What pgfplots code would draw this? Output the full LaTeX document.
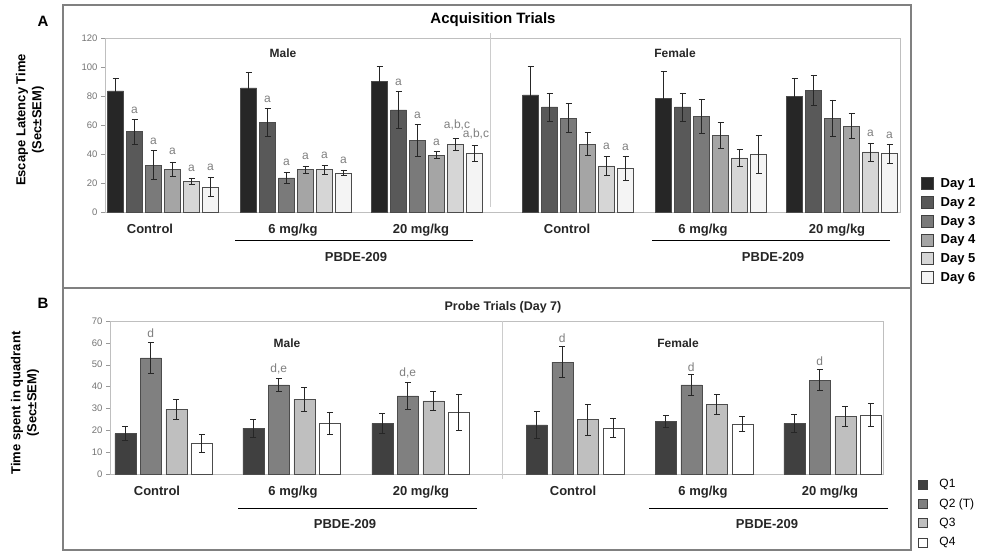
\documentclass[border=0pt]{standalone}
\usepackage{fontspec}
\setmainfont{Liberation Sans}
\usepackage{pgfplots}
\pgfplotsset{compat=1.18}
\definecolor{d1}{HTML}{262626}
\definecolor{d2}{HTML}{595959}
\definecolor{d3}{HTML}{7A7A7A}
\definecolor{d4}{HTML}{A5A5A5}
\definecolor{d5}{HTML}{D6D6D6}
\definecolor{d6}{HTML}{F4F4F4}
\definecolor{q1}{HTML}{404040}
\definecolor{q2}{HTML}{808080}
\definecolor{q3}{HTML}{BFBFBF}
\definecolor{q4}{HTML}{FFFFFF}
\definecolor{ann}{HTML}{7F7F7F}
\pgfplotsset{
  sqA/.style={legend image code/.code={\draw[##1,draw=black!75,line width=0.5pt] (0pt,-6pt) rectangle (12pt,6pt); \path (17pt,0pt);}},
  sqB/.style={legend image code/.code={\draw[##1,draw=black!75,line width=0.5pt] (0pt,-4.5pt) rectangle (9pt,4.5pt); \path (19pt,0pt);}},
  common/.style={
    scale only axis, clip=false, ybar,
    axis line style={black!25},
    ytick pos=left, tick align=outside, major tick length=4pt,
    ytick style={black!40},
    xtick style={draw=none},
    yticklabel style={font=\fontsize{9.5}{10}\selectfont, color=black!55},
    /pgf/number format/assume math mode=true,
    xticklabel style={font=\fontsize{13}{14}\selectfont\bfseries, color=black!85, yshift=-5pt},
    error bars/y dir=both, error bars/y explicit,
    error bars/error bar style={black!85, line width=0.6pt},
    error bars/error mark options={rotate=90, mark size=3pt, black!85, line width=0.6pt},
  },
  barA/.style={draw=black!70, line width=0.5pt, bar width=16, sqA},
  barB/.style={draw=black!70, line width=0.5pt, bar width=21, sqB},
}
\begin{document}
\begin{tikzpicture}
\useasboundingbox (0pt,0pt) rectangle (981pt,551pt);
\draw[black!50, line width=1.5pt] (63pt,1pt) rectangle (911pt,546pt);
\draw[black!50, line width=1.5pt] (63pt,263pt) -- (911pt,263pt);
\node[font=\fontsize{15}{16}\selectfont\bfseries] at (43pt,530pt) {A};
\node[font=\fontsize{15}{16}\selectfont\bfseries] at (43pt,248pt) {B};
\node[font=\fontsize{15}{16}\selectfont\bfseries] at (493pt,531pt) {Acquisition Trials};
\node[font=\fontsize{12.5}{14}\selectfont\bfseries, color=black!85] at (503pt,244pt) {Probe Trials (Day 7)};
\node[rotate=90, align=center, font=\fontsize{13}{16}\selectfont\bfseries] at (30pt,431pt) {Escape Latency Time\\(Sec±SEM)};
\node[rotate=90, align=center, font=\fontsize{13}{16}\selectfont\bfseries] at (25pt,148pt) {Time spent in quadrant\\(Sec±SEM)};

\begin{axis}[common,
  at={(105pt,339pt)}, anchor=south west, width=795pt, height=174pt,
  xmin=105, xmax=900, ymin=0, ymax=120, ytick={0,20,...,120},
  xtick={150,293,421,567,703,837},
  xticklabels={Control,6 mg/kg,20 mg/kg,Control,6 mg/kg,20 mg/kg},
  legend style={at={(1.0264,0.205)}, anchor=north west, draw=none, fill=none, inner sep=0pt,
    font=\fontsize{13}{14}\selectfont\bfseries, row sep=4.2pt, cells={anchor=west}},
]
\addplot[barA, fill=d1, bar shift=-47.5] coordinates {(163,83.5) +- (0,9) (296,85.6) +- (0,11) (427,90) +- (0,10.5) (578,80.8) +- (0,19.5) (711,78.5) +- (0,18.5) (842,79.6) +- (0,12.5)};
\addplot[barA, fill=d2, bar shift=-28.5] coordinates {(163,55.4) +- (0,8.5) (296,61.8) +- (0,9.5) (427,70.4) +- (0,13) (578,72.5) +- (0,9.7) (711,72.5) +- (0,9.7) (842,84) +- (0,10.6)};
\addplot[barA, fill=d3, bar shift=-9.5] coordinates {(163,32.3) +- (0,10) (296,23.5) +- (0,4) (427,49.2) +- (0,11) (578,64.8) +- (0,10) (711,66) +- (0,12) (842,64.8) +- (0,12.5)};
\addplot[barA, fill=d4, bar shift=9.5] coordinates {(163,29.5) +- (0,5) (296,29.3) +- (0,2.5) (427,39.2) +- (0,2.5) (578,46.8) +- (0,8) (711,52.8) +- (0,8.8) (842,59.3) +- (0,8.8)};
\addplot[barA, fill=d5, bar shift=28.5] coordinates {(163,21.2) +- (0,2.3) (296,29.3) +- (0,3) (427,46.6) +- (0,4) (578,31.8) +- (0,6.5) (711,37.4) +- (0,5.8) (842,41.5) +- (0,6.2)};
\addplot[barA, fill=d6, bar shift=47.5] coordinates {(163,17.2) +- (0,6.5) (296,27) +- (0,2) (427,40.4) +- (0,5.5) (578,30.2) +- (0,8) (711,39.7) +- (0,13) (842,40.2) +- (0,6.4)};
\legend{Day 1,Day 2,Day 3,Day 4,Day 5,Day 6}
% divider and group decorations
\draw[black!20, line width=0.8pt] (axis cs:490,123.4) -- (axis cs:490,3.4);
\draw[black, line width=0.6pt] (axis cs:235,-19.3) -- (axis cs:473,-19.3);
\draw[black, line width=0.6pt] (axis cs:652,-19.3) -- (axis cs:890,-19.3);
\node[font=\fontsize{13}{14}\selectfont\bfseries, color=black!85] at (axis cs:356,-31) {PBDE-209};
\node[font=\fontsize{13}{14}\selectfont\bfseries, color=black!85] at (axis cs:773,-31) {PBDE-209};
\node[font=\fontsize{12}{13}\selectfont\bfseries, color=black!85] at (axis cs:283,109.7) {Male};
\node[font=\fontsize{12}{13}\selectfont\bfseries, color=black!85] at (axis cs:675,109.7) {Female};
% significance letters
\begin{scope}[every node/.style={font=\fontsize{12}{13}\selectfont, color=ann}]
\node at (axis cs:134.5,70) {a};
\node at (axis cs:153.5,48.5) {a};
\node at (axis cs:172.5,41.5) {a};
\node at (axis cs:191.5,30) {a};
\node at (axis cs:210.5,30.5) {a};
\node at (axis cs:267.5,78) {a};
\node at (axis cs:286.5,34) {a};
\node at (axis cs:305.5,38.5) {a};
\node at (axis cs:324.5,39) {a};
\node at (axis cs:343.5,35.5) {a};
\node at (axis cs:398.5,89.5) {a};
\node at (axis cs:417.5,66.5) {a};
\node at (axis cs:436.5,48.2) {a};
\node at (axis cs:457,60.2) {a,b,c};
\node at (axis cs:476,54) {a,b,c};
\node at (axis cs:606.5,45) {a};
\node at (axis cs:625.5,44.7) {a};
\node at (axis cs:870.5,54.2) {a};
\node at (axis cs:889.5,53.1) {a};
\end{scope}
\end{axis}

\begin{axis}[common,
  at={(110pt,77pt)}, anchor=south west, width=773pt, height=153pt,
  xmin=110, xmax=883, ymin=0, ymax=70, ytick={0,10,...,70},
  xtick={157,293,421,573,703,830},
  xticklabels={Control,6 mg/kg,20 mg/kg,Control,6 mg/kg,20 mg/kg},
  legend style={at={(1.045,-0.022)}, anchor=north west, draw=none, fill=none, inner sep=0pt,
    font=\fontsize{12}{13}\selectfont, row sep=5.3pt, cells={anchor=west}},
]
\addplot[barB, fill=q1, bar shift=-38.25] coordinates {(163.5,18.5) +- (0,3.3) (291.5,21) +- (0,4) (420.5,23.2) +- (0,4.7) (575,22.5) +- (0,6) (704,24) +- (0,2.7) (832.5,23.2) +- (0,4)};
\addplot[barB, fill=q2, bar shift=-12.75] coordinates {(163.5,53.1) +- (0,7.2) (291.5,40.8) +- (0,3) (420.5,35.8) +- (0,6) (575,51.2) +- (0,7) (704,40.8) +- (0,4.9) (832.5,43) +- (0,4.9)};
\addplot[barB, fill=q3, bar shift=12.75] coordinates {(163.5,29.6) +- (0,4.4) (291.5,34.3) +- (0,5.5) (420.5,33.4) +- (0,4.4) (575,24.9) +- (0,7) (704,31.9) +- (0,4.7) (832.5,26.4) +- (0,4.7)};
\addplot[barB, fill=q4, bar shift=38.25] coordinates {(163.5,14) +- (0,4) (291.5,23.2) +- (0,5.2) (420.5,28.4) +- (0,8.2) (575,21) +- (0,4.4) (704,22.9) +- (0,3.5) (832.5,26.9) +- (0,5.3)};
\legend{Q1,Q2 (T),Q3,Q4}
\draw[black!20, line width=0.8pt] (axis cs:502,70) -- (axis cs:502,-2.3);
\draw[black, line width=0.6pt] (axis cs:238,-15.6) -- (axis cs:477,-15.6);
\draw[black, line width=0.6pt] (axis cs:649,-15.6) -- (axis cs:888,-15.6);
\node[font=\fontsize{13}{14}\selectfont\bfseries, color=black!85] at (axis cs:345,-22.9) {PBDE-209};
\node[font=\fontsize{13}{14}\selectfont\bfseries, color=black!85] at (axis cs:767,-22.9) {PBDE-209};
\node[font=\fontsize{12}{13}\selectfont\bfseries, color=black!85] at (axis cs:287,59.9) {Male};
\node[font=\fontsize{12}{13}\selectfont\bfseries, color=black!85] at (axis cs:678,59.9) {Female};
\begin{scope}[every node/.style={font=\fontsize{12}{13}\selectfont, color=ann}]
\node at (axis cs:150.75,64.5) {d};
\node at (axis cs:278.75,48) {d,e};
\node at (axis cs:407.75,46.2) {d,e};
\node at (axis cs:562.25,62.2) {d};
\node at (axis cs:691.25,49) {d};
\node at (axis cs:819.75,51.7) {d};
\end{scope}
\end{axis}
\end{tikzpicture}
\end{document}
